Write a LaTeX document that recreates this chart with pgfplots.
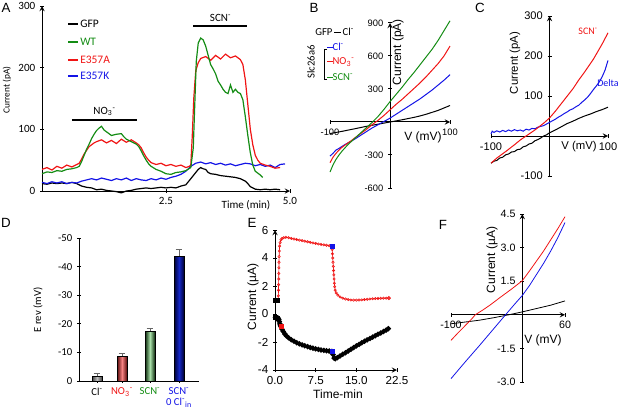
\documentclass[border=0pt]{standalone}
\usepackage{pgfplots}
\pgfplotsset{compat=1.18}
\usepackage{fontspec}
\setmainfont{Liberation Sans}
\newfontfamily\cali{Carlito}
\newcommand{\fs}[1]{\fontsize{#1}{#1}\selectfont}
\definecolor{cgreen}{RGB}{20,140,20}
\definecolor{cred}{RGB}{240,20,20}
\definecolor{cblue}{RGB}{20,20,230}

\pgfplotsset{
  panel/.style={scale only axis, anchor=south west, clip=false,
    axis line style={-, line width=0.75pt}, tick style={black, line width=0.75pt},
    major tick length=3pt, tick align=outside},
}

\begin{document}
\begin{tikzpicture}[x=0.75pt,y=0.75pt]
\useasboundingbox (0,0) rectangle (624,415);

% ---------------- A: time course
\begin{axis}[panel, at={(31.5pt,168pt)}, width=186pt, height=138.75pt,
  xmin=0, xmax=5, ymin=0, ymax=300,
  axis x line=bottom, axis y line=left,
  xtick={2.5,5}, xticklabels={2.5,5.0},
  ytick={0,100,200,300}, yticklabels={0,100,200,300},
  tick label style={font=\cali\fs{8.3}},
]
\addplot[black, line width=0.9pt] coordinates {
(0.0,12)(0.1,11)(0.2,13)(0.3,12)(0.4,13)(0.5,12)(0.6,14)(0.7,12)(0.8,8)(0.9,6)(1.0,5)
(1.1,2)(1.2,3)(1.3,1)(1.4,0)(1.5,-1)(1.6,-3)(1.7,0)(1.8,1)(1.9,3)(2.0,4)(2.1,5)(2.2,4)
(2.3,5)(2.4,6)(2.5,5)(2.6,6)(2.7,5)(2.8,8)(2.9,10)(2.95,15)(3.0,20)(3.05,25)(3.1,30)
(3.15,35)(3.2,38)(3.25,36)(3.3,35)(3.35,30)(3.4,28)(3.5,27)(3.6,25)(3.7,24)(3.8,23)
(3.9,22)(4.0,20)(4.1,16)(4.15,12)(4.2,7)(4.3,3)(4.4,2)(4.5,3)(4.6,2)(4.7,3)(4.8,2)};
\addplot[cblue, line width=0.9pt] coordinates {
(0.0,14)(0.1,12)(0.2,15)(0.3,13)(0.4,15)(0.5,12)(0.6,14)(0.7,13)(0.8,16)(0.9,18)(1.0,20)
(1.1,18)(1.2,21)(1.3,19)(1.4,17)(1.5,20)(1.6,18)(1.7,21)(1.8,17)(1.9,20)(2.0,18)(2.1,17)
(2.2,20)(2.3,18)(2.4,21)(2.5,19)(2.6,22)(2.7,24)(2.8,27)(2.9,32)(3.0,40)(3.1,45)(3.2,47)
(3.3,44)(3.4,46)(3.5,43)(3.6,45)(3.7,42)(3.8,44)(3.9,41)(4.0,43)(4.1,45)(4.2,44)(4.3,41)
(4.4,43)(4.5,40)(4.6,42)(4.7,38)(4.8,43)(4.9,44)};
\addplot[cred, line width=0.9pt] coordinates {
(0.0,35)(0.1,38)(0.2,34)(0.3,40)(0.4,37)(0.5,42)(0.6,39)(0.7,43)(0.75,45)(0.8,52)(0.85,60)
(0.9,66)(0.95,72)(1.0,75)(1.05,78)(1.1,80)(1.2,83)(1.3,78)(1.4,82)(1.5,77)(1.6,84)(1.7,79)
(1.8,83)(1.9,78)(1.95,75)(2.0,70)(2.05,62)(2.1,55)(2.15,50)(2.2,46)(2.3,43)(2.4,45)(2.5,41)
(2.6,43)(2.7,40)(2.8,42)(2.9,38)(2.97,40)(3.0,42)(3.03,90)(3.06,150)(3.1,195)(3.15,208)
(3.2,215)(3.3,218)(3.4,212)(3.5,220)(3.6,214)(3.7,222)(3.8,216)(3.9,219)(4.0,213)(4.05,205)
(4.1,180)(4.15,140)(4.2,100)(4.25,75)(4.3,58)(4.35,50)(4.4,45)(4.5,42)(4.6,40)(4.7,37)(4.8,38)};
\addplot[cgreen, line width=0.9pt] coordinates {
(0.0,28)(0.1,31)(0.2,30)(0.3,33)(0.4,32)(0.5,35)(0.6,36)(0.7,38)(0.75,40)(0.8,48)(0.85,58)
(0.9,68)(0.95,76)(1.0,85)(1.05,92)(1.1,98)(1.15,102)(1.2,105)(1.25,99)(1.3,96)(1.4,90)
(1.5,92)(1.6,93)(1.65,88)(1.7,84)(1.8,80)(1.9,76)(1.95,72)(2.0,65)(2.05,57)(2.1,50)(2.15,44)
(2.2,40)(2.3,35)(2.4,32)(2.5,28)(2.6,27)(2.7,30)(2.8,31)(2.9,33)(3.0,38)(3.05,70)(3.08,140)
(3.11,210)(3.15,240)(3.2,248)(3.25,245)(3.3,235)(3.35,220)(3.4,205)(3.45,198)(3.5,190)
(3.55,178)(3.6,172)(3.65,165)(3.7,160)(3.75,158)(3.8,172)(3.85,160)(3.9,165)(3.95,160)
(4.0,158)(4.05,148)(4.1,120)(4.15,90)(4.2,62)(4.25,42)(4.3,32)(4.4,26)(4.45,22)};
\draw[line width=1.5pt] (axis cs:0.6,115) -- (axis cs:1.92,115);
\draw[line width=1.5pt] (axis cs:3.05,268) -- (axis cs:4.14,268);
\node[font=\cali\fs{8.3}] at (axis cs:1.26,129) {NO\textsubscript{3}\textsuperscript{-}};
\node[font=\cali\fs{8.3}] at (axis cs:3.6,281) {SCN\textsuperscript{-}};
\end{axis}
\node[rotate=90, font=\cali\fs{7}] at (7,325) {Current (pA)};
\node[font=\cali\fs{8.3}] at (246,210) {Time (min)};
\foreach \yy/\cc/\tt in {391/black/GFP, 373/cgreen/WT, 355/cred/E357A, 339/cblue/E357K}{
  \draw[\cc, line width=0.9pt] (68,\yy) -- (78,\yy);
  \node[anchor=west, text=\cc, font=\cali\fs{8.6}, inner sep=0pt] at (80,\yy) {\tt};
}

% ---------------- B: I-V
\begin{axis}[panel, at={(247.5pt,170.25pt)}, width=90pt, height=123.75pt,
  xmin=-100, xmax=100, ymin=-600, ymax=900, axis lines=middle,
  xtick={-100,100}, xticklabels={-100,100},
  ytick={-600,-300,300,600,900}, yticklabels={-600,-300,300,600,900},
  tick label style={font=\fs{7}},
]
\addplot[black, line width=0.75pt] coordinates {
(-100,-105)(-80,-85)(-60,-63)(-40,-40)(-20,-20)(0,0)(20,20)(40,42)(50,55)(60,70)(80,105)(100,150)};
\addplot[cblue, line width=0.75pt] coordinates {
(-100,-310)(-95,-285)(-90,-255)(-85,-240)(-80,-222)(-75,-205)(-70,-190)(-65,-175)(-60,-160)
(-50,-125)(-40,-90)(-30,-55)(-20,-25)(-10,5)(0,35)(10,70)(20,105)(30,140)(40,175)(50,210)
(60,250)(70,290)(80,335)(90,380)(100,430)};
\addplot[cred, line width=0.75pt] coordinates {
(-100,-370)(-95,-320)(-90,-285)(-85,-255)(-80,-230)(-75,-210)(-70,-190)(-65,-172)(-60,-150)
(-50,-110)(-40,-70)(-30,-25)(-20,15)(-10,60)(0,110)(10,160)(20,205)(30,255)(40,305)(50,355)
(60,410)(70,470)(80,530)(90,600)(100,690)};
\addplot[cgreen, line width=0.75pt] coordinates {
(-100,-455)(-95,-390)(-90,-340)(-85,-300)(-80,-265)(-75,-235)(-70,-205)(-65,-180)(-60,-155)
(-50,-105)(-40,-55)(-30,-5)(-20,50)(-10,115)(0,185)(10,250)(20,315)(30,385)(40,450)(50,520)
(60,590)(70,660)(80,740)(90,830)(100,920)};
\end{axis}
\node[rotate=90, font=\fs{9}] at (398,363) {Current (pA)};
\node[font=\fs{9}] at (423,278) {V (mV)};
\node[anchor=west, font=\cali\fs{8}, inner sep=0pt] at (315,383) {GFP\,\rule[0.5ex]{5pt}{0.5pt}\,Cl\textsuperscript{-}};
\node[rotate=90, font=\cali\fs{8}] at (311,353) {Slc26a6};
\draw[line width=0.6pt] (327,366) -- (324,366) -- (324,336) -- (327,336);
\node[anchor=west, text=cblue, font=\cali\fs{8}, inner sep=0pt] at (327,368) {\rule[0.5ex]{4pt}{0.5pt}Cl\textsuperscript{-}};
\node[anchor=west, text=cred, font=\cali\fs{8}, inner sep=0pt] at (327,353) {\rule[0.5ex]{4pt}{0.5pt}NO\textsubscript{3}\textsuperscript{-}};
\node[anchor=west, text=cgreen, font=\cali\fs{8}, inner sep=0pt] at (327,338) {\rule[0.5ex]{4pt}{0.5pt}SCN\textsuperscript{-}};

% ---------------- C: I-V
\begin{axis}[panel, at={(368.25pt,179.25pt)}, width=87.75pt, height=120pt,
  xmin=-100, xmax=100, ymin=-100, ymax=300, axis lines=middle,
  xtick={-100,100}, xticklabels={-100,100},
  ytick={-100,100,200,300}, yticklabels={-100,100,200,300},
  tick label style={font=\fs{8.3}},
]
\addplot[black, line width=0.75pt] coordinates {
(-100,-68)(-95,-63)(-90,-61)(-85,-55)(-80,-53)(-75,-47)(-70,-45)(-65,-40)(-60,-39)(-55,-34)
(-50,-33)(-45,-27)(-40,-25)(-35,-20)(-30,-18)(-25,-12)(-20,-9)(-15,-5)(-10,0)(-5,3)(0,8)
(10,15)(20,23)(25,27)(30,31)(40,37)(50,44)(60,50)(70,55)(75,58)(80,61)(90,66)(100,72)};
\addplot[cblue, line width=0.75pt] coordinates {
(-100,5)(-98,12)(-95,9)(-90,13)(-85,10)(-80,14)(-75,11)(-70,15)(-65,12)(-60,16)(-55,13)
(-50,15)(-45,12)(-40,17)(-35,15)(-30,19)(-25,18)(-20,22)(-15,24)(-10,26)(-5,30)(0,34)(5,38)
(10,42)(15,47)(20,51)(25,56)(30,60)(35,65)(40,68)(45,73)(50,77)(55,84)(60,90)(65,97)
(70,106)(75,116)(80,125)(85,135)(90,148)(95,165)(100,189)};
\addplot[cred, line width=0.75pt] coordinates {
(-100,-68)(-90,-55)(-75,-39)(-60,-22)(-50,-10)(-40,0)(-25,15)(-10,32)(0,45)(10,62)(25,90)
(40,118)(50,140)(60,160)(75,192)(90,230)(100,258)};
\end{axis}
\node[rotate=90, font=\fs{8.5}] at (515,352) {Current (pA)};
\node[font=\fs{8.5}] at (579,268) {V (mV)};
\node[text=cred, font=\cali\fs{7.5}] at (588,384) {SCN\textsuperscript{-}};
\node[anchor=west, text=cblue, font=\cali\fs{7.5}, inner sep=0pt] at (597,332) {Delta};

% ---------------- D: bars
\begin{axis}[panel, at={(59.25pt,25.5pt)}, width=90pt, height=107.25pt,
  xmin=0, xmax=120, ymin=-50, ymax=0, y dir=reverse,
  axis x line=bottom, axis y line=left,
  x axis line style={-}, y axis line style={-},
  xtick={18,43,71,100},
  xticklabels={Cl\textsuperscript{-}, \color{cred}NO\textsubscript{3}\textsuperscript{-}, \color{cgreen}SCN\textsuperscript{-}, \color{cblue}SCN\textsuperscript{-}\\\color{cblue}0 Cl\textsuperscript{-}\textsubscript{in}},
  xticklabel style={align=center},
  ytick={-50,-40,-30,-20,-10,0}, yticklabels={-50,-40,-30,-20,-10,0},
  tick label style={font=\cali\fs{8}},
]
\addplot[ybar, bar width=7.5pt, bar shift=0pt, draw=black, line width=0.5pt,
  left color=black!75, right color=black!75, middle color=black!25,
  error bars/.cd, y dir=minus, y explicit,
  error bar style={black!60, line width=0.6pt}, error mark options={rotate=90, mark size=2.5pt, black!60}]
  coordinates {(18,-1.6) +- (0,1.0)};
\addplot[ybar, bar width=7.5pt, bar shift=0pt, draw=black, line width=0.5pt,
  left color={rgb,255:red,90;green,10;blue,10}, right color={rgb,255:red,90;green,10;blue,10}, middle color={rgb,255:red,245;green,130;blue,130},
  error bars/.cd, y dir=minus, y explicit,
  error bar style={black!60, line width=0.6pt}, error mark options={rotate=90, mark size=2.5pt, black!60}]
  coordinates {(43,-8.7) +- (0,0.9)};
\addplot[ybar, bar width=7.5pt, bar shift=0pt, draw=black, line width=0.5pt,
  left color={rgb,255:red,10;green,40;blue,10}, right color={rgb,255:red,10;green,40;blue,10}, middle color={rgb,255:red,170;green,225;blue,170},
  error bars/.cd, y dir=minus, y explicit,
  error bar style={black!60, line width=0.6pt}, error mark options={rotate=90, mark size=2.5pt, black!60}]
  coordinates {(71,-17.4) +- (0,1.2)};
\addplot[ybar, bar width=7.5pt, bar shift=0pt, draw=black, line width=0.5pt,
  left color={rgb,255:red,0;green,0;blue,50}, right color={rgb,255:red,0;green,0;blue,50}, middle color={rgb,255:red,20;green,40;blue,200},
  error bars/.cd, y dir=minus, y explicit,
  error bar style={black!60, line width=0.6pt}, error mark options={rotate=90, mark size=2.5pt, black!60}]
  coordinates {(100,-43.7) +- (0,2.5)};
\end{axis}
\node[rotate=90, font=\cali\fs{8}] at (38,105) {E rev (mV)};

% ---------------- E: two-electrode time course
\begin{axis}[panel, at={(206.25pt,33.75pt)}, width=91.5pt, height=105pt,
  xmin=0, xmax=22.5, ymin=-4, ymax=6,
  axis x line=bottom, axis y line=left,
  xtick={0,7.5,15,22.5}, xticklabels={0.0,7.5,15.0,22.5},
  ytick={-4,-2,0,2,4,6}, yticklabels={-4,-2,0,2,4,6},
  tick label style={font=\fs{8.7}},
]
\addplot[cred, line width=0.5pt, mark=o, mark size=0.9pt, mark options={line width=0.4pt}] coordinates {
(0.6,0.95)(0.62,1.3)(0.64,1.7)(0.66,2.1)(0.68,2.5)(0.7,2.9)(0.72,3.3)(0.74,3.7)(0.76,4.1)
(0.8,4.5)(0.85,4.85)(0.95,5.1)(1.1,5.3)(1.3,5.4)(1.6,5.45)(2.0,5.48)(2.5,5.45)(3,5.4)
(3.5,5.36)(4,5.32)(4.5,5.28)(5,5.24)(5.5,5.2)(6,5.16)(6.5,5.12)(7,5.08)(7.5,5.04)(8,5.0)
(8.5,4.97)(9,4.94)(9.5,4.91)(10,4.88)(10.5,4.85)(10.55,4.6)(10.6,4.3)(10.65,4.0)(10.7,3.7)
(10.75,3.4)(10.8,3.1)(10.85,2.8)(10.9,2.5)(10.95,2.2)(11.0,1.95)(11.1,1.7)(11.3,1.5)
(11.6,1.35)(12,1.22)(12.5,1.13)(13,1.07)(13.5,1.03)(14,1.0)(14.5,0.99)(15,0.99)(15.5,1.0)
(16,1.01)(16.5,1.03)(17,1.05)(17.5,1.07)(18,1.09)(18.5,1.1)(19,1.11)(19.5,1.12)(20,1.13)
(20.5,1.13)(21,1.14)};
\addplot[black, line width=1.5pt, mark=*, mark size=1.1pt] coordinates {
(0.1,-0.25)(0.35,-0.28)(0.6,-0.3)(0.7,-0.4)(0.8,-0.55)(0.9,-0.7)(1.0,-0.8)(1.1,-0.9)(1.3,-1.1)
(1.5,-1.25)(1.8,-1.42)(2.1,-1.56)(2.5,-1.7)(3,-1.84)(3.5,-1.95)(4,-2.05)(4.5,-2.13)(5,-2.2)
(5.5,-2.27)(6,-2.33)(6.5,-2.39)(7,-2.44)(7.5,-2.49)(8,-2.53)(8.5,-2.57)(9,-2.6)(9.5,-2.63)
(10,-2.65)(10.5,-2.67)(10.7,-2.9)(10.9,-3.15)(11.1,-3.2)(11.5,-3.12)(12,-3.0)(12.5,-2.88)
(13,-2.76)(13.5,-2.64)(14,-2.52)(14.5,-2.4)(15,-2.28)(15.5,-2.17)(16,-2.06)(16.5,-1.95)
(17,-1.85)(17.5,-1.75)(18,-1.65)(18.5,-1.55)(19,-1.45)(19.5,-1.35)(20,-1.25)(20.5,-1.15)(20.9,-1.05)};
\addplot[black, line width=0.5pt] coordinates {(0.1,0.95)(0.35,0.95)(0.6,0.95)};
\addplot[only marks, mark=square*, mark size=1.5pt, black] coordinates {(0.1,0.95)(0.35,0.95)(0.1,-0.25)(0.35,-0.28)};
\addplot[only marks, mark=square*, mark size=1.6pt, cblue] coordinates {(10.5,4.85)(10.5,-2.67)};
\addplot[only marks, mark=square*, mark size=1.5pt, cred] coordinates {(1.1,-0.9)};
\addplot[only marks, mark=o, mark size=1.3pt, fill=white, cred] coordinates {(21,1.14)};
\addplot[only marks, mark=o, mark size=1.3pt, fill=white, black] coordinates {(20.9,-1.05)};
\end{axis}
\node[rotate=90, font=\fs{9}] at (253,118) {Current (\textmu A)};
\node[font=\fs{9}] at (338,21) {Time-min};

% ---------------- F: oocyte I-V
\begin{axis}[panel, at={(338.25pt,24.75pt)}, width=85.5pt, height=126pt,
  xmin=-100, xmax=60, ymin=-3, ymax=4.5, axis lines=middle,
  xtick={-100,60}, xticklabels={-100,60},
  ytick={-3,-1.5,1.5,3,4.5}, yticklabels={-3.0,-1.5,1.5,3.0,4.5},
  tick label style={font=\fs{8}},
]
\addplot[black, line width=0.6pt] coordinates {
(-100,-0.4)(-82,-0.33)(-60,-0.24)(-40,-0.13)(-19,0)(0,0.13)(20,0.28)(40,0.43)(60,0.62)};
\addplot[cblue, line width=0.6pt] coordinates {
(-100,-2.85)(-80,-2.1)(-60,-1.37)(-40,-0.62)(-23.5,0)(-10,0.5)(0,0.86)(10,1.3)(20,1.8)
(30,2.3)(40,2.85)(50,3.45)(60,4.12)};
\addplot[cred, line width=0.6pt] coordinates {
(-100,-1.14)(-90,-0.8)(-80,-0.48)(-70,-0.15)(-66,0)(-55,0.22)(-45,0.44)(-30,0.8)(-15,1.15)
(0,1.52)(10,1.95)(20,2.4)(30,2.85)(40,3.35)(50,3.85)(60,4.38)};
\end{axis}
\node[rotate=90, font=\fs{9}] at (492,155) {Current (\textmu A)};
\node[font=\fs{9}] at (543,75) {V (mV)};

% ---------------- panel letters
\foreach \px/\py/\ll in {6/407/A, 314/407/B, 480/407/C, 6/192/D, 252/192/E, 443/190/F}{
  \node[font=\fs{10}] at (\px,\py) {\ll};
}
\end{tikzpicture}
\end{document}
